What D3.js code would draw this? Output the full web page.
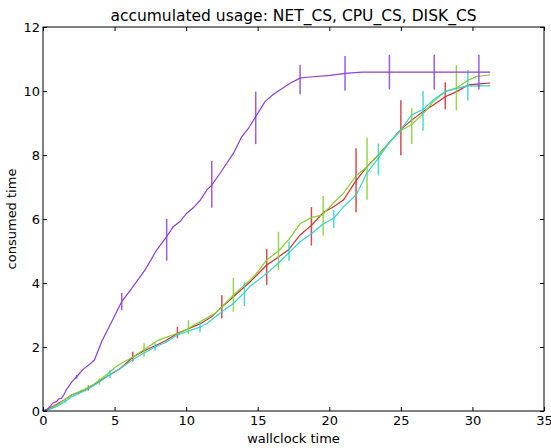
<!DOCTYPE html>
<html lang="en">
  <head>
    <meta charset="UTF-8" />
    <title>accumulated usage</title>
    <style>
      body {
        margin: 0;
        background: #fff;
      }
      text {
        font-family: "DejaVu Sans", sans-serif;
        fill: #000;
      }
    </style>
  </head>
  <body>
    <svg width="551" height="448"></svg>
    <script src="https://cdnjs.cloudflare.com/ajax/libs/d3/7.8.5/d3.min.js"></script>
    <script>
      // series
      const netX = [0, 0.3, 0.5, 0.72, 0.95, 1.1, 1.3, 1.45, 1.65, 2.0, 2.35, 2.8, 3.28, 3.6, 4.1, 4.8, 5.5, 6.2, 7.13, 7.94, 8.64, 9.1, 9.57, 10.04, 10.5, 11.0, 11.44, 11.79, 12.37, 13.3, 13.88, 14.35, 14.86, 15.51, 16.1, 17.26, 17.96, 18.43, 20.06, 21.1, 22.27, 31.24];
      const netY = [0, 0.05, 0.15, 0.26, 0.3, 0.38, 0.4, 0.5, 0.68, 0.9, 1.07, 1.3, 1.47, 1.6, 2.17, 2.79, 3.42, 3.83, 4.41, 5.03, 5.45, 5.76, 5.92, 6.18, 6.35, 6.6, 6.9, 7.06, 7.43, 8.05, 8.57, 8.83, 9.2, 9.67, 9.9, 10.24, 10.4, 10.43, 10.49, 10.55, 10.59, 10.59];

      const cpuX = [0, 0.5, 1, 1.5, 2, 2.5, 3.17, 4, 4.7, 5.4, 6.27, 7, 7.8, 8.6, 9.39, 10.2, 11, 11.8, 12.49, 13.3, 14.47, 15.63, 16.4, 17.14, 17.96, 18.75, 19.59, 20.3, 21, 21.87, 22.62, 23.43, 24.25, 25.0, 25.76, 26.58, 27.27, 28.1, 28.9, 29.7, 30.5, 31.24];
      const cpuY = [0, 0.1, 0.22, 0.35, 0.5, 0.58, 0.72, 0.95, 1.14, 1.33, 1.68, 1.87, 2.03, 2.2, 2.43, 2.58, 2.73, 2.95, 3.25, 3.57, 4.04, 4.56, 4.8, 5.03, 5.5, 5.8, 6.2, 6.38, 6.6, 7.2, 7.63, 8.0, 8.42, 8.8, 9.09, 9.37, 9.56, 9.82, 9.98, 10.19, 10.22, 10.25];

      const diskX = [0, 0.5, 0.84, 1.2, 1.6, 2, 2.5, 3, 3.5, 3.94, 4.5, 5, 5.5, 6, 6.5, 7.06, 7.5, 8, 8.6, 9.2, 9.6, 10.16, 10.6, 11, 11.5, 12, 12.5, 13.3, 14.1, 14.5, 15, 15.63, 16.45, 17.14, 17.96, 18.78, 19.5, 20.29, 20.99, 21.87, 22.64, 23.43, 24.25, 24.95, 25.76, 26.58, 27.27, 28.09, 28.91, 29.72, 30.3, 31.24];
      const diskY = [0, 0.08, 0.15, 0.25, 0.38, 0.5, 0.6, 0.7, 0.82, 0.97, 1.15, 1.35, 1.5, 1.62, 1.75, 1.92, 2.05, 2.2, 2.3, 2.4, 2.45, 2.58, 2.7, 2.8, 2.92, 3.05, 3.25, 3.62, 3.95, 4.1, 4.35, 4.72, 5.0, 5.34, 5.85, 6.05, 6.12, 6.5, 6.8, 7.35, 7.63, 8.0, 8.42, 8.75, 8.95, 9.3, 9.67, 9.98, 10.1, 10.34, 10.46, 10.5];

      const idleX = [0, 0.5, 1, 1.55, 2, 2.5, 3, 3.5, 4, 4.68, 5.4, 6.27, 7, 7.83, 8.6, 9.39, 10.16, 10.97, 11.5, 12.49, 13.3, 14.07, 14.47, 15.63, 16.4, 17.19, 17.96, 18.78, 19.59, 20.31, 20.99, 21.87, 22.62, 23.43, 24.25, 24.95, 25.76, 26.58, 27.27, 28.09, 28.91, 29.68, 30.5, 31.24];
      const idleY = [0, 0.06, 0.15, 0.3, 0.45, 0.55, 0.65, 0.78, 0.92, 1.15, 1.33, 1.6, 1.8, 2.0, 2.15, 2.38, 2.5, 2.62, 2.75, 3.1, 3.36, 3.7, 3.9, 4.3, 4.6, 4.95, 5.29, 5.55, 5.85, 6.02, 6.38, 6.75, 7.43, 7.9, 8.42, 8.77, 9.25, 9.43, 9.72, 9.98, 10.08, 10.16, 10.16, 10.16];

      // error bars: position, centre, half length
      const netErrX = [2.35, 5.5, 8.64, 11.79, 14.86, 17.96, 21.1, 24.2, 27.33, 30.45];
      const netErrY = [1.07, 3.42, 5.35, 7.08, 9.16, 10.36, 10.55, 10.59, 10.59, 10.59];
      const netErr = [0.06, 0.27, 0.65, 0.73, 0.82, 0.46, 0.54, 0.54, 0.54, 0.54];

      const cpuErrX = [3.17, 6.27, 9.39, 12.49, 15.63, 18.75, 21.87, 25.0, 28.1];
      const cpuErrY = [0.72, 1.7, 2.45, 3.26, 4.5, 5.77, 7.21, 8.85, 9.85];
      const cpuErr = [0.08, 0.15, 0.18, 0.36, 0.56, 0.6, 1.0, 0.86, 0.42];

      const diskErrX = [0.84, 3.94, 7.06, 10.16, 13.3, 16.45, 19.57, 22.64, 25.76, 28.88];
      const diskErrY = [0.15, 0.92, 1.91, 2.62, 3.63, 5.0, 6.1, 7.57, 8.9, 10.1];
      const diskErr = [0.05, 0.1, 0.21, 0.22, 0.53, 0.6, 0.62, 0.97, 0.56, 0.71];

      const idleErrX = [1.55, 4.68, 7.83, 10.97, 14.07, 17.19, 20.31, 23.43, 26.55, 29.68];
      const idleErrY = [0.3, 1.15, 2.0, 2.62, 3.66, 4.99, 6.0, 7.86, 9.38, 10.18];
      const idleErr = [0.04, 0.12, 0.12, 0.17, 0.38, 0.3, 0.28, 0.5, 0.62, 0.48];

      const xTicks = [0, 5, 10, 15, 20, 25, 30, 35];
      const yTicks = [0, 2, 4, 6, 8, 10, 12];

      const series = [
        { xs: cpuX, ys: cpuY, ex: cpuErrX, ey: cpuErrY, ee: cpuErr, color: "#d42b2b" },
        { xs: diskX, ys: diskY, ex: diskErrX, ey: diskErrY, ee: diskErr, color: "#80d22e" },
        { xs: idleX, ys: idleY, ex: idleErrX, ey: idleErrY, ee: idleErr, color: "#2ed4d4" },
        { xs: netX, ys: netY, ex: netErrX, ey: netErrY, ee: netErr, color: "#8a3ee0" },
      ];

      var svg = d3.select("svg");
      const mLeft = 43, mRight = 544, mTop = 27, mBottom = 411;

      var x = d3.scaleLinear().domain([0, 35]).range([mLeft, mRight]);
      var y = d3.scaleLinear().domain([0, 12]).range([mBottom, mTop]);

      const g = svg.append("g");

      var line = d3
        .line()
        .x((d) => x(d[0]))
        .y((d) => y(d[1]));

      series.forEach((s) => {
        g.append("path")
          .datum(d3.zip(s.xs, s.ys))
          .attr("d", line)
          .attr("fill", "none")
          .attr("stroke", s.color)
          .attr("stroke-width", 1.2);
        g.selectAll(null)
          .data(d3.zip(s.ex, s.ey, s.ee))
          .enter()
          .append("line")
          .attr("x1", (d) => x(d[0]))
          .attr("x2", (d) => x(d[0]))
          .attr("y1", (d) => y(d[1] - d[2]))
          .attr("y2", (d) => y(d[1] + d[2]))
          .attr("stroke", s.color)
          .attr("stroke-opacity", 0.85)
          .attr("stroke-width", 1.5);
      });

      // axes, ticks inside on all four sides
      const tl = 4;
      svg.append("g")
        .attr("transform", `translate(0,${mBottom})`)
        .call(d3.axisBottom(x).tickValues(xTicks).tickSize(-tl).tickPadding(5))
        .call((a) => a.select(".domain").remove());
      svg.append("g")
        .attr("transform", `translate(0,${mTop})`)
        .call(d3.axisTop(x).tickValues(xTicks).tickSize(-tl).tickFormat(""))
        .call((a) => a.select(".domain").remove());
      svg.append("g")
        .attr("transform", `translate(${mLeft},0)`)
        .call(d3.axisLeft(y).tickValues(yTicks).tickSize(-tl).tickPadding(3))
        .call((a) => a.select(".domain").remove());
      svg.append("g")
        .attr("transform", `translate(${mRight},0)`)
        .call(d3.axisRight(y).tickValues(yTicks).tickSize(-tl).tickFormat(""))
        .call((a) => a.select(".domain").remove());

      svg.selectAll(".tick text").attr("font-size", 13).attr("font-family", "DejaVu Sans");
      svg.selectAll(".tick line").attr("stroke", "#000");

      svg.append("rect")
        .attr("x", mLeft)
        .attr("y", mTop)
        .attr("width", mRight - mLeft)
        .attr("height", mBottom - mTop)
        .attr("fill", "none")
        .attr("stroke", "#000")
        .attr("stroke-width", 1);

      svg.append("text")
        .attr("x", (mLeft + mRight) / 2)
        .attr("y", 21)
        .attr("text-anchor", "middle")
        .attr("font-size", 15.5)
        .text("accumulated usage: NET_CS, CPU_CS, DISK_CS");

      svg.append("text")
        .attr("x", (mLeft + mRight) / 2)
        .attr("y", 443)
        .attr("text-anchor", "middle")
        .attr("font-size", 13)
        .text("wallclock time");

      svg.append("text")
        .attr("transform", `translate(16,${(mTop + mBottom) / 2}) rotate(-90)`)
        .attr("text-anchor", "middle")
        .attr("font-size", 13)
        .text("consumed time");
    </script>
  </body>
</html>
